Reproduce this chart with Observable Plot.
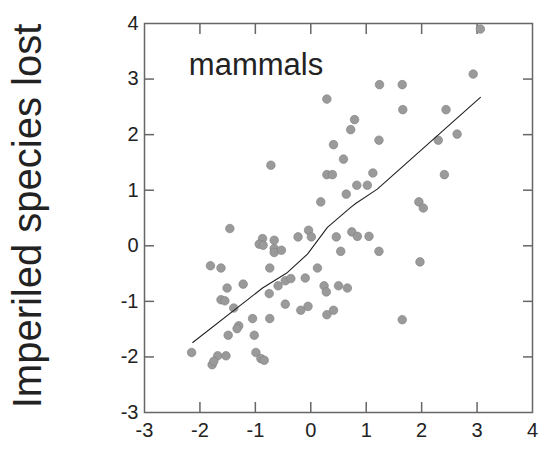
<!DOCTYPE html>
<html>
<head>
<meta charset="utf-8">
<script src="https://cdn.jsdelivr.net/npm/d3@7"></script>
<script src="https://cdn.jsdelivr.net/npm/@observablehq/plot@0.6"></script>
<style>
  html, body { margin: 0; padding: 0; background: #fff; }
  #chart svg { display: block; }
</style>
</head>
<body>
<div id="chart"></div>
<script>
// Scatter points (predictor, imperiled species lost) - mammals
const ptX = [3.06, 2.93, 1.24, 1.65, 0.29, 1.66, 2.44, 0.79, 0.72, 2.64,
             1.23, 2.30, 0.41, 0.59, -0.72, 1.12, 2.41, 0.29, 0.39, 0.83,
             1.02, 0.64, 0.18, 1.95, 2.03, -1.46, 0.74, -0.04, 0.84, 1.05,
             -0.23, 0.01, 0.46, -0.87, -0.93, -0.86, -0.66, -0.66, -0.66, -0.53,
             0.54, 1.23, 1.97, -1.81, -1.62, -0.74, 0.12, -1.51, -1.22, -0.46,
             -0.36, -0.10, -0.59, -0.75, 0.24, 0.28, 0.50, 0.66, 1.65, -1.62,
             -1.55, -1.39, -0.46, -0.18, -0.05, 0.29, 0.41, -1.05, -0.74, -1.30,
             -1.33, -1.49, -1.02, -2.15, -0.99, -1.68, -1.53, -1.78, -1.75, -0.90,
             -0.84];
const ptY = [3.90, 3.09, 2.90, 2.90, 2.64, 2.45, 2.45, 2.27, 2.09, 2.01,
             1.90, 1.90, 1.82, 1.56, 1.45, 1.31, 1.28, 1.28, 1.28, 1.09,
             1.09, 0.93, 0.79, 0.79, 0.68, 0.31, 0.25, 0.28, 0.17, 0.17,
             0.16, 0.16, 0.16, 0.13, 0.03, 0.01, 0.10, -0.05, -0.12, -0.08,
             -0.10, -0.10, -0.29, -0.36, -0.40, -0.40, -0.40, -0.76, -0.69, -0.63,
             -0.59, -0.58, -0.72, -0.86, -0.72, -0.83, -0.72, -0.76, -1.33, -0.97,
             -0.99, -1.12, -1.05, -1.16, -1.09, -1.24, -1.16, -1.31, -1.31, -1.44,
             -1.49, -1.61, -1.61, -1.92, -1.92, -1.98, -1.98, -2.14, -2.08, -2.03,
             -2.06];

// Smoothed (loess-like) fit line
const fitX = [-2.13, -0.87, -0.42, -0.06, 0.30, 0.72, 0.81, 1.20, 3.06];
const fitY = [-1.74, -0.76, -0.48, -0.15, 0.33, 0.69, 0.76, 1.02, 2.67];

const xTicks = [-3, -2, -1, 0, 1, 2, 3, 4];
const yTicks = [-3, -2, -1, 0, 1, 2, 3, 4];
const yLabel = "Imperiled species lost";
const panelLabel = ["mammals"];
const panelLabelX = [-2.2];
const panelLabelY = [3.26];

const points = ptX.map((x, i) => ({x, y: ptY[i]}));
const fit = fitX.map((x, i) => ({x, y: fitY[i]}));
const labels = panelLabel.map((t, i) => ({t, x: panelLabelX[i], y: panelLabelY[i]}));

const axisColor = "#666";
const font = "'Liberation Sans', Arial, sans-serif";
const fmt = d => String(d);

const chart = Plot.plot({
  width: 557,
  height: 461,
  marginLeft: 144,
  marginRight: 25,
  marginTop: 23,
  marginBottom: 49,
  style: {fontFamily: font, background: "#fff", color: "#222"},
  x: {domain: [-3, 4], axis: null},
  y: {domain: [-3, 4], axis: null},
  marks: [
    // inward ticks on all four sides
    Plot.axisX(xTicks.slice(1, -1), {anchor: "bottom", tickSize: -10, stroke: axisColor, strokeWidth: 1.5, tickFormat: () => "", label: null}),
    Plot.axisX(xTicks.slice(1, -1), {anchor: "top", tickSize: -10, stroke: axisColor, strokeWidth: 1.5, tickFormat: () => "", label: null}),
    Plot.axisY(yTicks.slice(1, -1), {anchor: "left", tickSize: -10, stroke: axisColor, strokeWidth: 1.5, tickFormat: () => "", label: null}),
    Plot.axisY(yTicks.slice(1, -1), {anchor: "right", tickSize: -10, stroke: axisColor, strokeWidth: 1.5, tickFormat: () => "", label: null}),
    // tick labels
    Plot.axisX(xTicks, {anchor: "bottom", tickSize: 0, tickPadding: 10, fontSize: 20, fill: "#222", tickFormat: fmt, label: null}),
    Plot.axisY(yTicks, {anchor: "left", tickSize: 0, tickPadding: 6, fontSize: 20, fill: "#222", tickFormat: fmt, label: null}),
    Plot.frame({stroke: axisColor, strokeWidth: 1.5}),
    Plot.dot(points, {x: "x", y: "y", r: 4.3, fill: "#9a9a9a", stroke: "#808080", strokeWidth: 0.6}),
    Plot.line(fit, {x: "x", y: "y", stroke: "#222", strokeWidth: 1.1}),
    Plot.text(labels, {x: "x", y: "y", text: "t", textAnchor: "start", fontSize: 31, fill: "#222"}),
    Plot.text([yLabel], {frameAnchor: "left", text: d => d, textAnchor: "middle", lineAnchor: "middle", rotate: -90, dx: -116, dy: -2, fontSize: 40, fill: "#222"})
  ]
});
document.getElementById("chart").appendChild(chart);
</script>
</body>
</html>
